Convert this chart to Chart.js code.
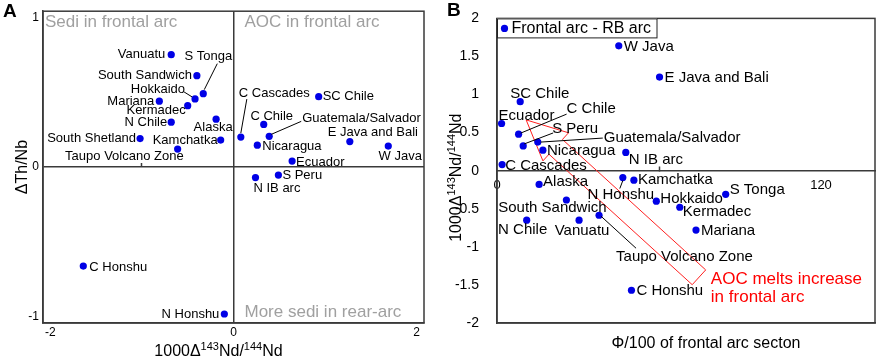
<!DOCTYPE html>
<html><head><meta charset="utf-8">
<script src="https://cdn.jsdelivr.net/npm/chart.js@4.4.1/dist/chart.umd.min.js"></script>
<style>
html,body{margin:0;padding:0;background:#fff;}
#wrap{position:relative;width:879px;height:363px;overflow:hidden;background:#fff;}
#ca{position:absolute;left:0;top:0;}
#cb{position:absolute;left:440px;top:0;}
</style></head><body>
<div id="wrap"><canvas id="ca" width="440" height="363"></canvas><canvas id="cb" width="439" height="363"></canvas></div>
<script>
// ---------- DATA: panel A ----------
const arcsA = ['Vanuatu','South Sandwich','S Tonga','Hokkaido','Mariana','Kermadec','Alaska','N Chile',
  'South Shetland','Kamchatka','Taupo Volcano Zone','C Cascades','SC Chile','C Chile','Guatemala/Salvador',
  'Nicaragua','E Java and Bali','W Java','Ecuador','S Peru','N IB arc','C Honshu','N Honshu'];
const ndA   = [-0.68,-0.40,-0.33,-0.42,-0.81,-0.50,-0.19,-0.68,-1.02,-0.14,-0.61,0.08,0.93,0.33,0.39,0.26,1.27,1.69,0.64,0.49,0.24,-1.64,-0.10];
const thNbA = [0.75,0.61,0.49,0.455,0.44,0.41,0.32,0.30,0.19,0.18,0.12,0.20,0.47,0.285,0.205,0.146,0.17,0.14,0.04,-0.053,-0.07,-0.66,-0.98];
const xTicksA = [-2, 0, 2];
const yTicksA = [-1, 0, 1];
const minorTicksA = [-1];
const quadrantTextsA = ['Sedi in frontal arc', 'AOC in frontal arc', 'More sedi in rear-arc'];
const yTitleA = 'ΔTh/Nb';
// Nd title as [text, isSuperscript] runs
const ndTitle = [['1000Δ',0],['143',1],['Nd/',0],['144',1],['Nd',0]];

// ---------- DATA: panel B ----------
const arcsB = ['W Java','E Java and Bali','SC Chile','Ecuador','C Chile','S Peru','Guatemala/Salvador','Nicaragua',
  'N IB arc','C Cascades','Kamchatka','N Honshu','Alaska','S Tonga','Hokkaido','South Sandwich','Kermadec',
  'N Chile','Vanuatu','Taupo Volcano Zone','Mariana','C Honshu'];
const phiB = [45.1,60.2,8.6,1.7,8.0,9.7,15.1,17.0,47.7,1.9,50.7,46.6,15.6,84.7,59.0,25.7,67.7,11.0,30.4,37.8,73.7,49.8];
const ndB  = [1.64,1.23,0.906,0.62,0.48,0.325,0.376,0.27,0.24,0.08,-0.124,-0.09,-0.18,-0.31,-0.40,-0.385,-0.48,-0.65,-0.65,-0.585,-0.78,-1.57];
const xTicksB = [0, 60, 120];
const yTicksB = [-2, -1.5, -1, -0.5, 0, 0.5, 1, 1.5, 2];
const xTitleB = 'Φ/100 of frontal arc secton';
const legendTextB = 'Frontal arc - RB arc';
const arrowB = {tipX: 10.8, tipY: 0.667, tailX: 74.8, tailY: -1.40};
const noteB = ['AOC melts increase', 'in frontal arc'];
const noteBPos = {x: 79.2, y1: -1.427, y2: -1.663};

// ---------- label placement (styling, pixel offsets) ----------
const offA = {
 'Vanuatu':{dx:-6,dy:0,a:'right'},
 'South Sandwich':{dx:-5,dy:0,a:'right'},
 'S Tonga':{dx:5,dy:-37,a:'center',l:[1,-4,14,-30]},
 'Hokkaido':{dx:-10,dy:-9,a:'right',l:[-11,-7,-3,-2]},
 'Mariana':{dx:-5,dy:0,a:'right'},
 'Kermadec':{dx:-2,dy:5,a:'right'},
 'Alaska':{dx:-3,dy:8,a:'center'},
 'N Chile':{dx:-4,dy:0,a:'right'},
 'South Shetland':{dx:-4,dy:0,a:'right'},
 'Kamchatka':{dx:-3,dy:0,a:'right'},
 'Taupo Volcano Zone':{dx:6,dy:7,a:'right'},
 'C Cascades':{dx:-2,dy:-44,a:'left',l:[0,-4,6,-38]},
 'SC Chile':{dx:4,dy:0,a:'left'},
 'C Chile':{dx:8,dy:-8,a:'center'},
 'Guatemala/Salvador':{dx:33,dy:-18,a:'left',l:[2,-2,32,-15]},
 'Nicaragua':{dx:5,dy:1,a:'left'},
 'E Java and Bali':{dx:23,dy:-9,a:'center'},
 'W Java':{dx:12,dy:10,a:'center'},
 'Ecuador':{dx:4,dy:1,a:'left'},
 'S Peru':{dx:4,dy:0,a:'left'},
 'N IB arc':{dx:-2,dy:11,a:'left'},
 'C Honshu':{dx:6,dy:1,a:'left'},
 'N Honshu':{dx:-5,dy:0,a:'right'}
};
const offB = {
 'W Java':{dx:5,dy:1,a:'left'},
 'E Java and Bali':{dx:5,dy:1,a:'left'},
 'SC Chile':{dx:-10,dy:-8,a:'left'},
 'Ecuador':{dx:-3,dy:-8,a:'left'},
 'C Chile':{dx:48,dy:-25,a:'left',l:[2,-1,48,-20]},
 'S Peru':{dx:29,dy:-17,a:'left',l:[1,-2,30,-13]},
 'Guatemala/Salvador':{dx:66,dy:-4,a:'left',l:[3,0,65,-4]},
 'Nicaragua':{dx:4,dy:1,a:'left'},
 'N IB arc':{dx:3,dy:7,a:'left'},
 'C Cascades':{dx:3,dy:1,a:'left'},
 'Kamchatka':{dx:4,dy:0,a:'left'},
 'N Honshu':{dx:-2,dy:17,a:'center',l:[0,3,-3,11]},
 'Alaska':{dx:4,dy:-3,a:'left'},
 'S Tonga':{dx:4,dy:-4,a:'left'},
 'Hokkaido':{dx:4,dy:-2,a:'left'},
 'South Sandwich':{dx:-14,dy:8,a:'center'},
 'Kermadec':{dx:3,dy:5,a:'left'},
 'N Chile':{dx:-4,dy:10,a:'center'},
 'Vanuatu':{dx:3,dy:11,a:'center'},
 'Taupo Volcano Zone':{dx:17,dy:42,a:'left',l:[2,1,37,33]},
 'Mariana':{dx:5,dy:1,a:'left'},
 'C Honshu':{dx:5,dy:1,a:'left'}
};

const FONT = "'Liberation Sans', Arial, Helvetica, sans-serif";
const AXIS = '#3a3a3a';
const DOT = '#0000e6';
Chart.defaults.font.family = FONT;
Chart.defaults.color = '#000';

// draws text runs with superscripts, centred at (cx, cy), optionally rotated -90deg
function drawRich(ctx, runs, cx, cy, size, rotated){
  const sup = Math.round(size * 0.66);
  ctx.save();
  ctx.translate(cx, cy);
  if (rotated) ctx.rotate(-Math.PI/2);
  ctx.fillStyle = '#000'; ctx.textBaseline = 'alphabetic'; ctx.textAlign = 'left';
  let w = 0;
  runs.forEach(r => { ctx.font = (r[1] ? sup : size) + 'px ' + FONT; w += ctx.measureText(r[0]).width; });
  let x = -w/2; const base = size * 0.36;
  runs.forEach(r => {
    ctx.font = (r[1] ? sup : size) + 'px ' + FONT;
    ctx.fillText(r[0], x, r[1] ? base - size*0.36 : base);
    x += ctx.measureText(r[0]).width;
  });
  ctx.restore();
}

function labelPlugin(names, offs, size){
  return {id:'lbl', afterDatasetsDraw(chart){
    const ctx = chart.ctx, meta = chart.getDatasetMeta(0);
    ctx.save();
    ctx.font = size + 'px ' + FONT;
    ctx.fillStyle = '#000'; ctx.strokeStyle = '#000'; ctx.lineWidth = 1;
    ctx.textBaseline = 'middle';
    meta.data.forEach((pt, i) => {
      const o = offs[names[i]]; if (!o) return;
      if (o.l){ ctx.beginPath(); ctx.moveTo(pt.x+o.l[0], pt.y+o.l[1]); ctx.lineTo(pt.x+o.l[2], pt.y+o.l[3]); ctx.stroke(); }
      ctx.textAlign = o.a;
      ctx.fillText(names[i], pt.x+o.dx, pt.y+o.dy);
    });
    ctx.restore();
  }};
}
const framePlugin = {id:'frame', beforeDatasetsDraw(chart){
  const {ctx, chartArea:a} = chart;
  ctx.save(); ctx.strokeStyle = AXIS; ctx.lineWidth = 1.5;
  ctx.strokeRect(a.left, a.top, a.right-a.left, a.bottom-a.top);
  ctx.restore();
}};
function letterPlugin(letter, x, y){
  return {id:'letter', afterDraw(chart){
    const ctx = chart.ctx; ctx.save();
    ctx.font = 'bold 19px ' + FONT; ctx.fillStyle = '#000';
    ctx.textAlign = 'left'; ctx.textBaseline = 'middle';
    ctx.fillText(letter, x, y); ctx.restore();
  }};
}
const quadPlugin = {id:'quad', afterDatasetsDraw(chart){
  const ctx = chart.ctx, a = chart.chartArea, x0 = chart.scales.x.getPixelForValue(0);
  ctx.save(); ctx.font = '17px ' + FONT; ctx.fillStyle = '#a0a0a0';
  ctx.textAlign = 'left'; ctx.textBaseline = 'middle';
  ctx.fillText(quadrantTextsA[0], a.left+2, a.top+11);
  ctx.fillText(quadrantTextsA[1], x0+11, a.top+11);
  ctx.fillText(quadrantTextsA[2], x0+11, a.bottom-11);
  ctx.restore();
  // axis title with real superscripts, below the x axis
  drawRich(ctx, ndTitle, (a.left+a.right)/2 - 15, 350, 16, false);
}};
const arrowPlugin = {id:'arrow', beforeDatasetsDraw(chart){
  const ctx = chart.ctx, sx = chart.scales.x, sy = chart.scales.y;
  const tx = sx.getPixelForValue(arrowB.tipX), ty = sy.getPixelForValue(arrowB.tipY);
  const ex = sx.getPixelForValue(arrowB.tailX), ey = sy.getPixelForValue(arrowB.tailY);
  const L = Math.hypot(ex-tx, ey-ty), ux = (ex-tx)/L, uy = (ey-ty)/L, nx = -uy, ny = ux;
  const hl = 40, hw = 19, sw = 10;
  const bx = tx+ux*hl, by = ty+uy*hl;
  const pts = [[tx,ty],[bx+nx*hw,by+ny*hw],[bx+nx*sw,by+ny*sw],[ex+nx*sw,ey+ny*sw],
               [ex-nx*sw,ey-ny*sw],[bx-nx*sw,by-ny*sw],[bx-nx*hw,by-ny*hw]];
  ctx.save(); ctx.strokeStyle = '#ff2020'; ctx.lineWidth = 1;
  ctx.beginPath(); pts.forEach((p,i)=> i ? ctx.lineTo(p[0],p[1]) : ctx.moveTo(p[0],p[1]));
  ctx.closePath(); ctx.stroke();
  ctx.font = '17px ' + FONT; ctx.fillStyle = '#ff0000'; ctx.textAlign = 'left'; ctx.textBaseline = 'middle';
  const nx0 = sx.getPixelForValue(noteBPos.x);
  ctx.fillText(noteB[0], nx0, sy.getPixelForValue(noteBPos.y1));
  ctx.fillText(noteB[1], nx0, sy.getPixelForValue(noteBPos.y2));
  ctx.restore();
}};
const legendPlugin = {id:'leg', afterDatasetsDraw(chart){
  const ctx = chart.ctx, a = chart.chartArea;
  ctx.save(); ctx.fillStyle = '#fff';
  ctx.fillRect(a.left, a.top, 160, 19);
  ctx.strokeStyle = '#222'; ctx.lineWidth = 1;
  ctx.strokeRect(a.left+0.5, a.top+0.5, 159.5, 19);
  ctx.fillStyle = DOT; ctx.beginPath(); ctx.arc(a.left+7.5, a.top+10, 3.6, 0, Math.PI*2); ctx.fill();
  ctx.fillStyle = '#000'; ctx.font = '16px ' + FONT; ctx.textAlign = 'left'; ctx.textBaseline = 'middle';
  ctx.fillText(legendTextB, a.left+14.5, a.top+10.5);
  ctx.restore();
  // rotated y-axis title with real superscripts
  drawRich(ctx, ndTitle, 15, (a.top+a.bottom)/2 + 7, 16, true);
}};

const zeroColor = c => (c.tick && c.tick.value === 0) ? AXIS : 'rgba(0,0,0,0)';

// ---------- Chart A ----------
new Chart(document.getElementById('ca'), {
  type: 'scatter',
  data: {datasets: [{data: arcsA.map((n,i)=>({x: ndA[i], y: thNbA[i]})), backgroundColor: DOT,
    borderWidth: 0, pointRadius: 3.6, xAxisID: 'x', yAxisID: 'y'}]},
  options: {
    responsive: false, animation: false, devicePixelRatio: 1,
    layout: {padding: {top: 11, right: 16, left: 0, bottom: 0}},
    plugins: {legend: {display: false}, tooltip: {enabled: false}},
    scales: {
      x: {type: 'linear', position: 'bottom', min: -2.08, max: 2.08,
        afterBuildTicks: s => { s.ticks = xTicksA.map(v => ({value: v})); },
        afterFit: s => { s.height = 40; },
        ticks: {font: {size: 12}, padding: 2, autoSkip: false, maxRotation: 0, callback: v => String(v)},
        grid: {drawTicks: false, color: zeroColor, lineWidth: 1.5},
        border: {display: true, color: AXIS, width: 1.5},
        title: {display: false}
      },
      x0: {type: 'linear', axis: 'x', position: {y: 0}, min: -2.08, max: 2.08,
        afterBuildTicks: s => { s.ticks = minorTicksA.map(v => ({value: v})); },
        ticks: {display: false},
        grid: {display: true, drawOnChartArea: false, drawTicks: true, tickLength: -4, tickWidth: 1.5, tickColor: AXIS},
        border: {display: false}
      },
      y: {type: 'linear', position: 'left', min: -1.04, max: 1.04,
        afterBuildTicks: s => { s.ticks = yTicksA.map(v => ({value: v})); },
        afterFit: s => { s.width = 43; },
        ticks: {font: {size: 12}, padding: 4, autoSkip: false, callback: v => String(v)},
        grid: {drawTicks: false, color: zeroColor, lineWidth: 1.5},
        border: {display: true, color: AXIS, width: 1.5},
        title: {display: true, text: yTitleA, font: {size: 16}, padding: {top: 13, bottom: 0}}
      }
    }
  },
  plugins: [framePlugin, quadPlugin, labelPlugin(arcsA, offA, 13), letterPlugin('A', 3, 12)]
});

// ---------- Chart B ----------
new Chart(document.getElementById('cb'), {
  type: 'scatter',
  data: {datasets: [{data: arcsB.map((n,i)=>({x: phiB[i], y: ndB[i]})), backgroundColor: DOT,
    borderWidth: 0, pointRadius: 3.6, xAxisID: 'x', yAxisID: 'y'}]},
  options: {
    responsive: false, animation: false, devicePixelRatio: 1,
    layout: {padding: {top: 11, right: 2, left: 0, bottom: 0}},
    plugins: {legend: {display: false}, tooltip: {enabled: false}},
    scales: {
      x: {type: 'linear', position: 'bottom', min: 0, max: 140,
        afterFit: s => { s.height = 40; },
        ticks: {display: false},
        grid: {display: false},
        border: {display: true, color: AXIS, width: 1.5},
        title: {display: true, text: '         ' + xTitleB, font: {size: 16}, padding: {top: 0, bottom: 10}}
      },
      x0: {type: 'linear', axis: 'x', position: {y: 0}, min: 0, max: 140,
        afterBuildTicks: s => { s.ticks = xTicksB.map(v => ({value: v})); },
        ticks: {font: {size: 13}, padding: 12, autoSkip: false, maxRotation: 0, callback: v => v === 60 ? '' : String(v)},
        grid: {display: true, drawOnChartArea: false, drawTicks: true, tickLength: -5, tickWidth: 1.5,
          tickColor: c => (c.tick && c.tick.value === 60) ? AXIS : 'rgba(0,0,0,0)'},
        border: {display: true, color: AXIS, width: 1.5}
      },
      y: {type: 'linear', position: 'left', min: -2, max: 2,
        afterBuildTicks: s => { s.ticks = yTicksB.map(v => ({value: v})); },
        afterFit: s => { s.width = 57; },
        ticks: {font: {size: 14}, padding: 10, autoSkip: false, callback: v => String(v)},
        grid: {display: false},
        border: {display: true, color: AXIS, width: 1.5},
        title: {display: false}
      }
    }
  },
  plugins: [framePlugin, arrowPlugin, labelPlugin(arcsB, offB, 15), legendPlugin, letterPlugin('B', 7, 11)]
});
</script>
</body></html>
